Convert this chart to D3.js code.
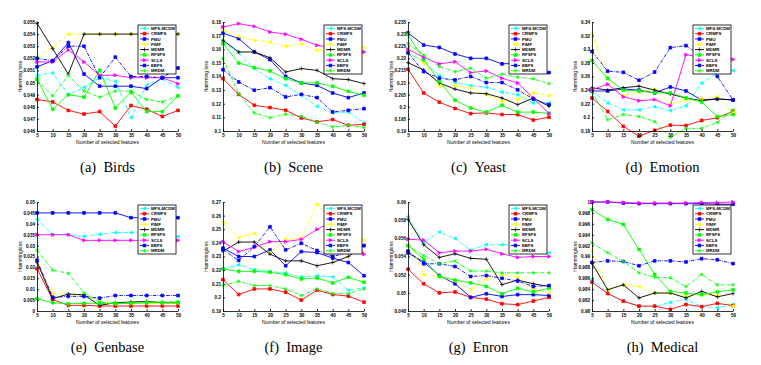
<!DOCTYPE html>
<html lang="en">
<head>
<meta charset="utf-8">
<title>Hamming loss vs number of selected features</title>
<script src="https://d3js.org/d3.v7.min.js"></script>
<style>
    body { margin: 0; background: #fff; }
    #chart { display: block; }
    .axis text { font-family: Arial, "Liberation Sans", sans-serif; font-size: 4.6px; font-weight: bold; fill: #000; }
    .axis path, .axis line { stroke: #000; stroke-width: 0.8; }
    .lab { font-family: Arial, "Liberation Sans", sans-serif; font-size: 5px; fill: #000; }
    .leg { font-family: Arial, "Liberation Sans", sans-serif; font-size: 4.3px; font-weight: bold; fill: #000; }
    .cap { font-family: "Liberation Serif", "Times New Roman", serif; font-size: 14.5px; fill: #000; }
</style>
</head>
<body>
<svg id="chart" width="761" height="365"></svg>

<script type="text/javascript">
    // number of selected features (x axis)
    var features = [5, 10, 15, 20, 25, 30, 35, 40, 45, 50];

    var seriesNames = ["MFS-MCDM", "CRMFS", "PMU", "FIMF", "MDMR", "RFSFS", "SCLS", "EBFS", "MRDM"];

    // rows follow seriesNames order
    var birdsTicks = [0.046, 0.047, 0.048, 0.049, 0.05, 0.051, 0.052, 0.053, 0.054, 0.055];
    var birdsLoss = [
        [0.0506, 0.0508, 0.0490, 0.0496, 0.0504, 0.0501, 0.0471, 0.0498, 0.0503, 0.0496],
        [0.0486, 0.0484, 0.0477, 0.0474, 0.0476, 0.0464, 0.0481, 0.0478, 0.0472, 0.0477],
        [0.0513, 0.0518, 0.0533, 0.0507, 0.0497, 0.0497, 0.0497, 0.0495, 0.0504, 0.0504],
        [0.0521, 0.0529, 0.0540, 0.0540, 0.0540, 0.0540, 0.0540, 0.0540, 0.0540, 0.0540],
        [0.0549, 0.0528, 0.0507, 0.0540, 0.0540, 0.0540, 0.0540, 0.0540, 0.0540, 0.0540],
        [0.0503, 0.0478, 0.0490, 0.0488, 0.0510, 0.0479, 0.0492, 0.0476, 0.0476, 0.0489],
        [0.0517, 0.0517, 0.0527, 0.0517, 0.0506, 0.0506, 0.0504, 0.0504, 0.0504, 0.0499],
        [0.0520, 0.0518, 0.0530, 0.0530, 0.0504, 0.0521, 0.0505, 0.0505, 0.0504, 0.0512],
        [0.0502, 0.0489, 0.0506, 0.0493, 0.0488, 0.0493, 0.0493, 0.0486, 0.0484, 0.0489]
    ];

    var sceneTicks = [0.1, 0.11, 0.12, 0.13, 0.14, 0.15, 0.16, 0.17, 0.18];
    var sceneLoss = [
        [0.1653, 0.1573, 0.1458, 0.1384, 0.1335, 0.1262, 0.1181, 0.1132, 0.1140, 0.1059],
        [0.1384, 0.1269, 0.1189, 0.1172, 0.1152, 0.1096, 0.1067, 0.1084, 0.1042, 0.1049],
        [0.1719, 0.1678, 0.1580, 0.1524, 0.1401, 0.1353, 0.1335, 0.1279, 0.1245, 0.1279],
        [0.1739, 0.1695, 0.1666, 0.1653, 0.1622, 0.1641, 0.1592, 0.1597, 0.1597, 0.1612],
        [0.1666, 0.1580, 0.1580, 0.1538, 0.1433, 0.1458, 0.1445, 0.1384, 0.1377, 0.1348],
        [0.1641, 0.1499, 0.1465, 0.1441, 0.1384, 0.1353, 0.1353, 0.1328, 0.1291, 0.1262],
        [0.1763, 0.1788, 0.1768, 0.1727, 0.1710, 0.1673, 0.1629, 0.1612, 0.1597, 0.1580],
        [0.1450, 0.1360, 0.1299, 0.1318, 0.1250, 0.1269, 0.1245, 0.1140, 0.1152, 0.1164],
        [0.1531, 0.1274, 0.1133, 0.1098, 0.1123, 0.1108, 0.1067, 0.1030, 0.1042, 0.1025]
    ];

    var yeastTicks = [0.19, 0.195, 0.2, 0.205, 0.21, 0.215, 0.22, 0.225, 0.23, 0.235];
    var yeastLoss = [
        [0.2220, 0.2190, 0.2128, 0.2100, 0.2087, 0.2081, 0.2060, 0.2050, 0.2016, 0.2016],
        [0.2155, 0.2057, 0.2019, 0.1993, 0.1972, 0.1975, 0.1968, 0.1968, 0.1945, 0.1957],
        [0.2305, 0.2255, 0.2245, 0.2218, 0.2200, 0.2200, 0.2177, 0.2180, 0.2150, 0.2141],
        [0.2237, 0.2180, 0.2087, 0.2087, 0.2077, 0.2050, 0.2023, 0.2030, 0.2057, 0.2046],
        [0.2182, 0.2152, 0.2098, 0.2073, 0.2057, 0.2054, 0.2036, 0.2009, 0.2036, 0.2002],
        [0.2298, 0.2195, 0.2105, 0.2027, 0.1995, 0.1978, 0.2006, 0.1978, 0.1978, 0.1973],
        [0.2237, 0.2204, 0.2177, 0.2186, 0.2141, 0.2148, 0.2118, 0.2098, 0.2036, 0.1972],
        [0.2223, 0.2145, 0.2118, 0.2111, 0.2125, 0.2100, 0.2100, 0.2070, 0.2032, 0.2009],
        [0.2261, 0.2214, 0.2166, 0.2145, 0.2159, 0.2118, 0.2135, 0.2122, 0.2115, 0.2095]
    ];

    var emotionTicks = [0.18, 0.2, 0.22, 0.24, 0.26, 0.28, 0.3, 0.32, 0.34];
    var emotionLoss = [
        [0.2377, 0.2215, 0.2111, 0.2111, 0.2157, 0.2099, 0.2169, 0.2504, 0.2650, 0.2689],
        [0.2284, 0.2088, 0.1868, 0.1724, 0.1810, 0.1886, 0.1880, 0.1955, 0.1995, 0.2088],
        [0.2388, 0.2388, 0.2417, 0.2400, 0.2360, 0.2446, 0.2388, 0.2255, 0.2272, 0.2255],
        [0.3227, 0.2562, 0.2319, 0.2371, 0.2417, 0.2198, 0.2255, 0.2272, 0.2302, 0.2071],
        [0.2435, 0.2400, 0.2435, 0.2458, 0.2400, 0.2342, 0.2284, 0.2244, 0.2272, 0.2255],
        [0.2834, 0.2573, 0.2400, 0.2388, 0.2360, 0.2360, 0.2284, 0.2226, 0.2013, 0.2042],
        [0.2406, 0.2487, 0.2302, 0.2244, 0.2261, 0.2169, 0.2920, 0.2880, 0.2860, 0.2851],
        [0.2967, 0.2678, 0.2661, 0.2545, 0.2666, 0.3024, 0.3053, 0.2900, 0.2600, 0.2255],
        [0.2377, 0.1967, 0.2042, 0.2013, 0.1938, 0.1706, 0.1839, 0.1839, 0.1926, 0.2111]
    ];

    var genbaseTicks = [0, 0.005, 0.01, 0.015, 0.02, 0.025, 0.03, 0.035, 0.04, 0.045, 0.05];
    var genbaseLoss = [
        [0.0420, 0.0350, 0.0350, 0.0342, 0.0352, 0.0360, 0.0360, 0.0357, 0.0346, 0.0342],
        [0.0194, 0.0053, 0.0026, 0.0026, 0.0023, 0.0023, 0.0023, 0.0023, 0.0023, 0.0023],
        [0.0450, 0.0450, 0.0450, 0.0450, 0.0450, 0.0450, 0.0428, 0.0428, 0.0428, 0.0428],
        [0.0218, 0.0081, 0.0074, 0.0071, 0.0053, 0.0033, 0.0035, 0.0035, 0.0035, 0.0035],
        [0.0224, 0.0056, 0.0078, 0.0074, 0.0026, 0.0038, 0.0041, 0.0044, 0.0038, 0.0038],
        [0.0056, 0.0038, 0.0033, 0.0035, 0.0035, 0.0035, 0.0035, 0.0038, 0.0038, 0.0038],
        [0.0350, 0.0350, 0.0350, 0.0324, 0.0324, 0.0324, 0.0324, 0.0324, 0.0324, 0.0324],
        [0.0233, 0.0063, 0.0067, 0.0067, 0.0059, 0.0071, 0.0071, 0.0071, 0.0071, 0.0071],
        [0.0279, 0.0188, 0.0173, 0.0083, 0.0041, 0.0033, 0.0038, 0.0041, 0.0041, 0.0044]
    ];

    var imageTicks = [0.19, 0.2, 0.21, 0.22, 0.23, 0.24, 0.25, 0.26, 0.27];
    var imageLoss = [
        [0.2208, 0.2239, 0.2203, 0.2191, 0.2179, 0.2150, 0.2159, 0.2150, 0.2053, 0.2070],
        [0.2130, 0.2021, 0.2062, 0.2062, 0.2038, 0.1980, 0.2053, 0.2021, 0.2009, 0.1965],
        [0.2361, 0.2300, 0.2300, 0.2348, 0.2232, 0.2336, 0.2329, 0.2288, 0.2256, 0.2159],
        [0.2547, 0.2438, 0.2470, 0.2329, 0.2426, 0.2433, 0.2683, 0.2560, 0.2480, 0.2421],
        [0.2339, 0.2406, 0.2406, 0.2317, 0.2268, 0.2268, 0.2232, 0.2256, 0.2300, 0.2380],
        [0.2208, 0.2191, 0.2191, 0.2184, 0.2167, 0.2135, 0.2142, 0.2106, 0.2147, 0.2111],
        [0.2409, 0.2336, 0.2368, 0.2409, 0.2409, 0.2426, 0.2499, 0.2560, 0.2530, 0.2317],
        [0.2351, 0.2271, 0.2373, 0.2518, 0.2349, 0.2397, 0.2344, 0.2300, 0.2330, 0.2380],
        [0.2087, 0.2118, 0.2087, 0.2087, 0.2062, 0.2014, 0.2062, 0.2028, 0.2028, 0.2062]
    ];

    var enronTicks = [0.048, 0.05, 0.052, 0.054, 0.056, 0.058, 0.06];
    var enronLoss = [
        [0.0584, 0.0555, 0.0567, 0.0560, 0.0547, 0.0553, 0.0553, 0.0553, 0.0553, 0.0544],
        [0.0526, 0.0510, 0.0500, 0.0501, 0.0495, 0.0493, 0.0488, 0.0487, 0.0491, 0.0495],
        [0.0544, 0.0534, 0.0519, 0.0510, 0.0495, 0.0499, 0.0496, 0.0498, 0.0498, 0.0497],
        [0.0560, 0.0520, 0.0518, 0.0513, 0.0504, 0.0515, 0.0520, 0.0517, 0.0504, 0.0500],
        [0.0581, 0.0553, 0.0539, 0.0543, 0.0538, 0.0537, 0.0509, 0.0514, 0.0510, 0.0507],
        [0.0552, 0.0537, 0.0518, 0.0514, 0.0511, 0.0507, 0.0499, 0.0505, 0.0501, 0.0505],
        [0.0559, 0.0558, 0.0544, 0.0546, 0.0546, 0.0548, 0.0543, 0.0539, 0.0540, 0.0540],
        [0.0546, 0.0532, 0.0532, 0.0529, 0.0518, 0.0519, 0.0516, 0.0513, 0.0507, 0.0508],
        [0.0552, 0.0541, 0.0532, 0.0535, 0.0524, 0.0524, 0.0522, 0.0522, 0.0522, 0.0522]
    ];

    var medicalTicks = [0.98, 0.982, 0.984, 0.986, 0.988, 0.99, 0.992, 0.994, 0.996, 0.998, 1];
    var medicalLoss = [
        [0.9859, 0.9833, 0.9818, 0.9808, 0.9808, 0.9816, 0.9821, 0.9808, 0.9806, 0.9812],
        [0.9853, 0.9832, 0.9818, 0.9809, 0.9809, 0.9803, 0.9812, 0.9808, 0.9814, 0.9810],
        [1.0000, 1.0000, 0.9998, 0.9997, 0.9997, 0.9997, 0.9997, 0.9997, 0.9996, 0.9996],
        [0.9911, 0.9839, 0.9848, 0.9845, 0.9833, 0.9832, 0.9827, 0.9830, 0.9828, 0.9809],
        [0.9888, 0.9839, 0.9848, 0.9824, 0.9833, 0.9833, 0.9824, 0.9836, 0.9826, 0.9832],
        [0.9986, 0.9968, 0.9959, 0.9913, 0.9867, 0.9836, 0.9833, 0.9830, 0.9835, 0.9839],
        [1.0000, 1.0000, 0.9999, 0.9998, 0.9998, 0.9998, 0.9998, 0.9999, 0.9999, 1.0000],
        [0.9889, 0.9892, 0.9891, 0.9883, 0.9892, 0.9892, 0.9890, 0.9896, 0.9894, 0.9887],
        [0.9925, 0.9907, 0.9891, 0.9870, 0.9862, 0.9861, 0.9845, 0.9867, 0.9848, 0.9848]
    ];

    var panelLabels = ["(a)", "(b)", "(c)", "(d)", "(e)", "(f)", "(g)", "(h)"];
    var panelNames = ["Birds", "Scene", "Yeast", "Emotion", "Genbase", "Image", "Enron", "Medical"];

    // styles
    var seriesColors = ["#00ffff", "#ff0000", "#0000ff", "#ffff00", "#000000", "#00ff00", "#ff00ff", "#0000ff", "#00ff00"];
    var dashDot = "3.5,1.2,0.8,1.2";
    var seriesDash = [dashDot, null, null, dashDot, null, null, null, dashDot, dashDot];
    var seriesMarker = ["tri", "square", "square", "tri", "plus", "square", "triR", "square", "star"];

    // layout
    var panelLeft = [37, 223, 408, 592];
    var rowTop = [22, 202];
    var plotW = 141, plotH = 109;

    var svg = d3.select("#chart");

    function markerPath(type) {
        if (type == "square") return "M-1.4,-1.4H1.4V1.4H-1.4Z";
        if (type == "tri") return "M-1.7,0L1.3,-1.6L1.3,1.6Z";
        if (type == "triR") return "M1.8,0L-1.3,-1.7L-1.3,1.7Z";
        if (type == "plus") return "M-2,0H2M0,-2V2";
        return "M-1.8,0H1.8M0,-1.8V1.8M-1.3,-1.3L1.3,1.3M-1.3,1.3L1.3,-1.3";
    }

    function tickFmt(v) { return String(+v.toFixed(4)); }

    var panelData = [birdsLoss, sceneLoss, yeastLoss, emotionLoss, genbaseLoss, imageLoss, enronLoss, medicalLoss];
    var panelTicks = [birdsTicks, sceneTicks, yeastTicks, emotionTicks, genbaseTicks, imageTicks, enronTicks, medicalTicks];

    panelData.forEach(function(values, i) {
        var col = i % 4, row = Math.floor(i / 4);
        var ticks = panelTicks[i];
        var g = svg.append("g")
            .attr("transform", "translate(" + panelLeft[col] + "," + rowTop[row] + ")");

        var x = d3.scaleLinear().domain([5, 50]).range([0, plotW]);
        var y = d3.scaleLinear().domain(d3.extent(ticks)).range([plotH, 0]);

        var line = d3.line()
            .x(function(d, k) { return x(features[k]); })
            .y(function(d) { return y(d); });

        values.forEach(function(vals, s) {
            g.append("path")
                .datum(vals)
                .attr("d", line)
                .attr("fill", "none")
                .attr("stroke", seriesColors[s])
                .attr("stroke-width", 0.9)
                .attr("stroke-dasharray", seriesDash[s]);

            var filled = seriesMarker[s] != "plus" && seriesMarker[s] != "star";
            g.selectAll(null)
                .data(vals)
                .enter()
                .append("path")
                .attr("transform", function(d, k) { return "translate(" + x(features[k]) + "," + y(d) + ")"; })
                .attr("d", markerPath(seriesMarker[s]))
                .attr("fill", filled ? seriesColors[s] : "none")
                .attr("stroke", seriesColors[s])
                .attr("stroke-width", 0.7);
        });

        g.append("g")
            .attr("class", "axis")
            .attr("transform", "translate(0," + plotH + ")")
            .call(d3.axisBottom(x).tickValues(features).tickSizeInner(-2).tickSizeOuter(0).tickPadding(3));

        g.append("g")
            .attr("class", "axis")
            .call(d3.axisLeft(y).tickValues(ticks).tickFormat(tickFmt).tickSizeInner(-2).tickSizeOuter(0).tickPadding(2));

        g.append("text")
            .attr("class", "lab")
            .attr("text-anchor", "middle")
            .attr("x", plotW / 2)
            .attr("y", plotH + 13)
            .text("Number of selected features");

        g.append("text")
            .attr("class", "lab")
            .attr("text-anchor", "middle")
            .attr("transform", "translate(-15," + (plotH / 2) + ") rotate(-90)")
            .text(row == 0 ? "Hamming loss" : "Hammingloss");

        // legend
        var bw = 38, bh = 49;
        var lg = g.append("g").attr("transform", "translate(" + (plotW - bw - 2) + ",3)");
        lg.append("rect")
            .attr("width", bw).attr("height", bh)
            .attr("fill", "#fff").attr("stroke", "#000").attr("stroke-width", 0.8);

        seriesNames.forEach(function(name, s) {
            var ly = 3.4 + s * 5.3;
            lg.append("line")
                .attr("x1", 2).attr("x2", 11).attr("y1", ly).attr("y2", ly)
                .attr("stroke", seriesColors[s]).attr("stroke-width", 0.9)
                .attr("stroke-dasharray", seriesDash[s]);
            var filled = seriesMarker[s] != "plus" && seriesMarker[s] != "star";
            lg.append("path")
                .attr("transform", "translate(6.5," + ly + ")")
                .attr("d", markerPath(seriesMarker[s]))
                .attr("fill", filled ? seriesColors[s] : "none")
                .attr("stroke", seriesColors[s]).attr("stroke-width", 0.7);
            lg.append("text")
                .attr("class", "leg")
                .attr("x", 13).attr("y", ly + 1.5)
                .text(name);
        });

        svg.append("text")
            .attr("class", "cap")
            .attr("text-anchor", "middle")
            .attr("x", panelLeft[col] + plotW / 2)
            .attr("y", rowTop[row] + plotH + 41)
            .text(panelLabels[i] + "\u00a0\u00a0" + panelNames[i]);
    });
</script>
</body>
</html>
